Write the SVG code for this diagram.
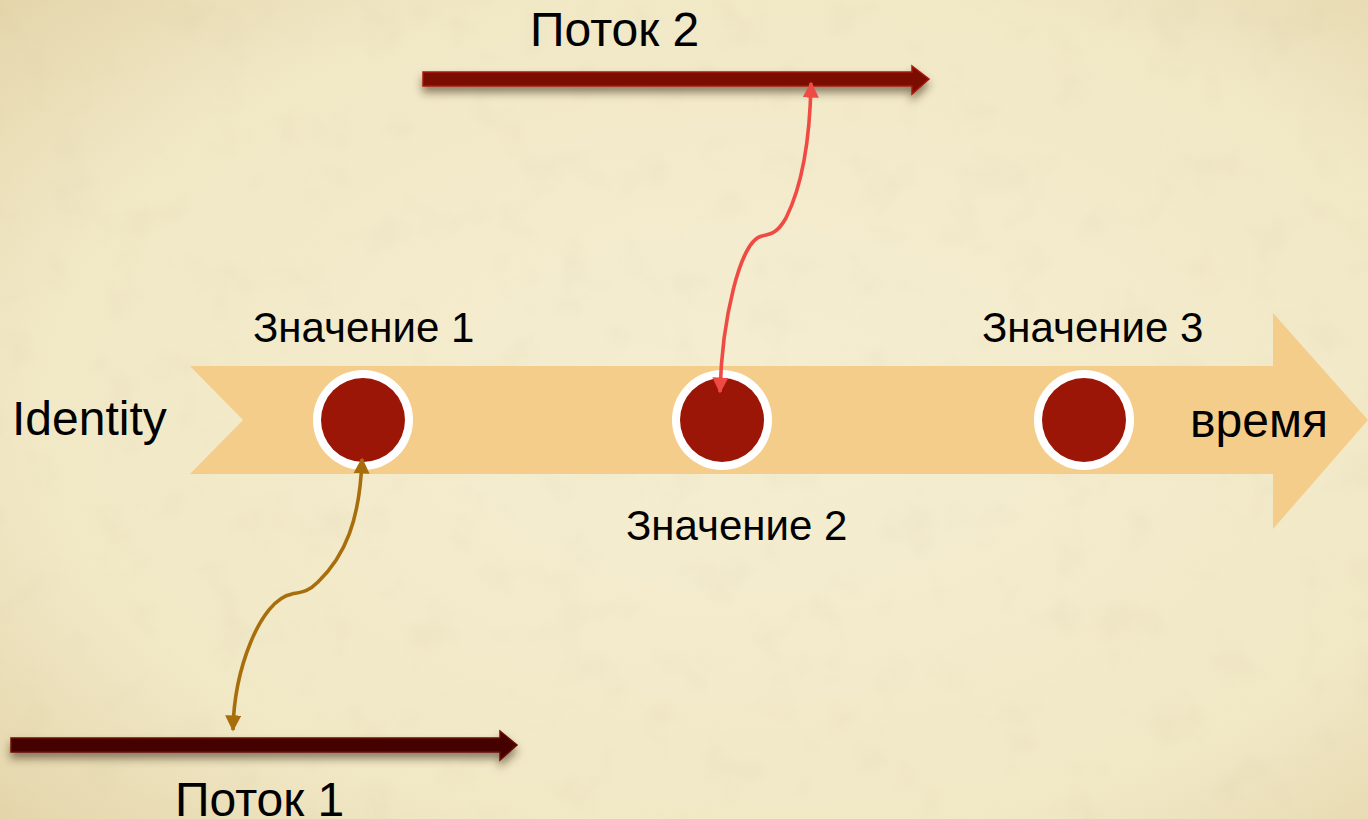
<svg xmlns="http://www.w3.org/2000/svg" width="1368" height="819" viewBox="0 0 1368 819">
  <defs>
    <radialGradient id="paper" cx="0.55" cy="0.5" r="0.75">
      <stop offset="0" stop-color="#f5eed2"/>
      <stop offset="0.7" stop-color="#f1e8c6"/>
      <stop offset="1" stop-color="#e4d5aa"/>
    </radialGradient>
    <filter id="grain" x="0" y="0" width="100%" height="100%">
      <feTurbulence type="fractalNoise" baseFrequency="0.02" numOctaves="3" seed="7"/>
      <feColorMatrix values="0 0 0 0 0.55  0 0 0 0 0.48  0 0 0 0 0.3  0 0 0 -1.2 0.55"/>
    </filter>
    <filter id="shadow" x="-5%" y="-80%" width="110%" height="300%">
      <feDropShadow dx="0" dy="6" stdDeviation="4" flood-color="#3a2a10" flood-opacity="0.55"/>
    </filter>
    <marker id="headRed" viewBox="0 0 10 10" refX="9" refY="5" markerWidth="4.5" markerHeight="4.5" orient="auto-start-reverse" markerUnits="strokeWidth">
      <path d="M0,0 L10,5 L0,10 Z" fill="#f04a44"/>
    </marker>
    <marker id="headGold" viewBox="0 0 10 10" refX="9" refY="5" markerWidth="4.5" markerHeight="4.5" orient="auto-start-reverse" markerUnits="strokeWidth">
      <path d="M0,0 L10,5 L0,10 Z" fill="#a86e0c"/>
    </marker>
  </defs>
  <style>
    .label { font-family: "Liberation Sans", Arial, sans-serif; font-size: 42px; fill: #000; }
    .big { font-size: 48px; }
    .dot-ring { fill: #ffffff; }
    .dot { fill: #9b1606; }
  </style>

  <!-- parchment background -->
  <rect width="1368" height="819" fill="url(#paper)"/>
  <rect width="1368" height="819" filter="url(#grain)" opacity="0.2"/>

  <!-- timeline band (identity over time) -->
  <g id="timeline">
    <path d="M190,366 L1273,366 L1273,313 L1368,420 L1273,529 L1273,474 L190,474 L243,420 Z" fill="#f4cd8a"/>
    <text class="label big" x="12" y="435">Identity</text>
    <text class="label big" x="1190" y="437">время</text>
  </g>

  <!-- values on the timeline -->
  <g id="value1">
    <circle class="dot-ring" cx="363" cy="420" r="50"/>
    <circle class="dot" cx="363" cy="420" r="42"/>
    <text class="label" x="253" y="342">Значение 1</text>
  </g>
  <g id="value2">
    <circle class="dot-ring" cx="722" cy="420" r="50"/>
    <circle class="dot" cx="722" cy="420" r="42"/>
    <text class="label" x="626" y="540">Значение 2</text>
  </g>
  <g id="value3">
    <circle class="dot-ring" cx="1084" cy="420" r="50"/>
    <circle class="dot" cx="1084" cy="420" r="42"/>
    <text class="label" x="982" y="342">Значение 3</text>
  </g>

  <!-- threads -->
  <g id="thread2">
    <path d="M423,72 L912,72 L912,66 L929,79 L912,94 L912,86 L423,86 Z" fill="#7a0c02" stroke="#a51a0a" stroke-width="1.5" filter="url(#shadow)"/>
    <text class="label big" x="530" y="46">Поток 2</text>
  </g>
  <g id="thread1">
    <path d="M11,738 L500,738 L500,731 L517,745 L500,760 L500,752 L11,752 Z" fill="#440000" stroke="#6a0a06" stroke-width="1.5" filter="url(#shadow)"/>
    <text class="label big" x="175" y="816">Поток 1</text>
  </g>

  <!-- connectors -->
  <g id="connectors" fill="none" stroke-width="3.6">
    <path d="M720,392 C722,320 740,240 762,236 C772,234 778,232 786,218 C802,186 810,140 811,83" stroke="#f04a44" marker-start="url(#headRed)" marker-end="url(#headRed)"/>
    <path d="M233,730 C234,670 260,600 292,594 C302,592 308,592 318,582 C345,556 360,520 362,459" stroke="#a86e0c" marker-start="url(#headGold)" marker-end="url(#headGold)"/>
  </g>
</svg>
